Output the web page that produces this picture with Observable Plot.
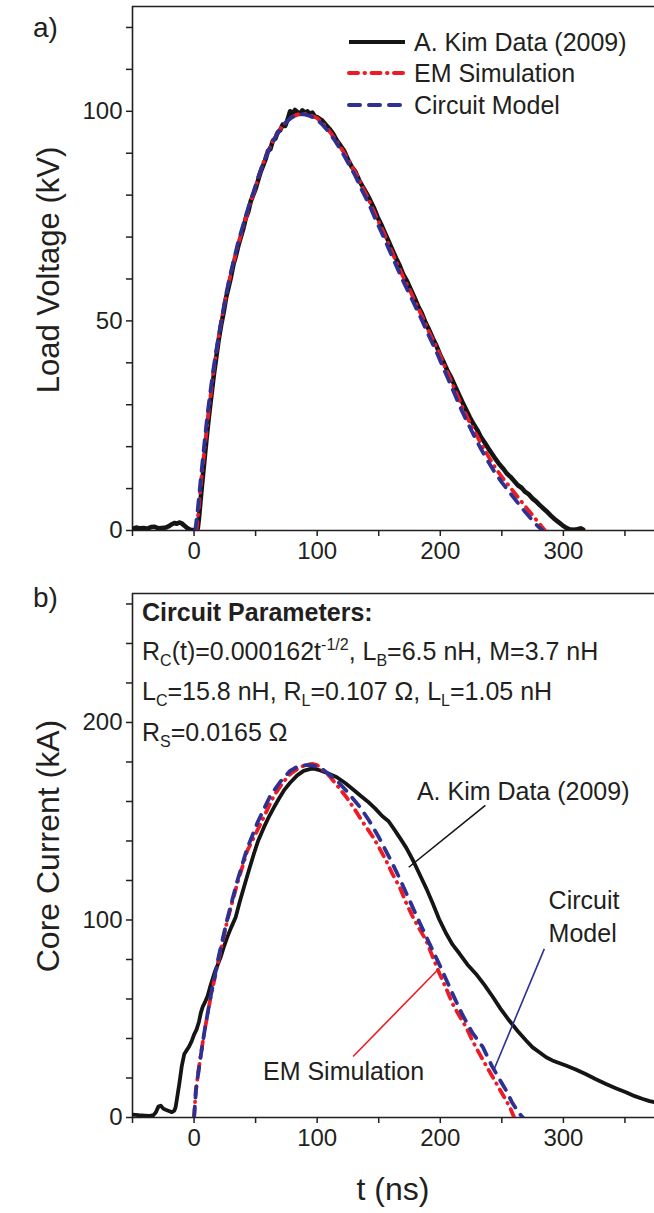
<!DOCTYPE html>
<html><head><meta charset="utf-8">
<script src="https://cdn.jsdelivr.net/npm/d3@7"></script>
<script src="https://cdn.jsdelivr.net/npm/@observablehq/plot@0.6"></script>
<style>
body{margin:0;background:#fff;}
#wrap{position:relative;width:654px;height:1213px;overflow:hidden;font-family:"Liberation Sans",Arial,Helvetica,sans-serif;}
#wrap svg{position:absolute;left:0;}
</style></head><body><div id="wrap"></div>
<script>
// ---------------- data: panel a) Load Voltage (kV) ----------------
const kimVoltT = [-50,-47,-44,-41,-38,-35,-32,-29,-26,-23,-20,-18,-16,-14,-12,-10,-8,-6,-4,-2,0,1,2,3,4,6,8,10,12,14,16,18,20,22,24,26,28,30,32,34,36,38,40,42,44,46,48,50,52,54,56,58,60,62,64,66,68,70,72,74,76,78,80,82,84,86,88,90,92,94,96,98,100,102,104,107,110,113,116,119,122,125,128,131,134,137,140,143,146,149,152,155,158,161,164,167,170,173,176,179,182,185,188,191,194,197,200,203,206,209,212,215,218,221,224,227,230,233,236,239,242,245,248,251,254,257,260,263,266,269,272,275,278,281,284,287,290,293,296,299,302,305,308,311,314,316];
const kimVoltV = [0.4,0.7,0.5,0.6,0.4,0.8,0.9,0.5,0.6,0.7,1.1,1.5,1.8,1.6,1.9,1.7,1.2,0.7,0.3,0.1,0.1,0.2,0.2,0.5,3,9.5,15.5,21.5,27,32,37,41.2,45.5,49,52,55.5,58,60.5,63.5,65.5,68,70,72,74.5,76,78.5,80,81.5,83.5,85.5,87,88.5,90.5,91,93,93.5,95,95.5,96.8,96.5,98,100,99.5,100.3,99.8,99.4,100.2,99.6,100,99.3,99.7,98.8,98.6,98.2,97.8,96.8,95.8,94.6,93,91.8,90.5,88.5,86.8,85.6,83.6,82,80.5,78.8,77,74.8,73,71,69,67,65,63.2,61,59.5,57.5,55.6,53.5,51.8,49.6,47.8,45.8,44,41.8,40,38,36.4,34.4,32.5,30.6,28.8,27,25.4,24,22.3,21,19.6,18.3,17,15.8,14.8,13.6,12.8,11.8,10.8,10.2,9.2,8.6,7.6,6.9,6,5.2,4.4,3.5,2.7,2,1.3,0.7,0.3,0.2,0.3,0.5,0.2];
const emVoltT = [2,4,6,8,10,12,14,16,18,21,24,27,30,33,37,41,45,49,53,57,61,65,70,75,80,85,90,95,100,105,110,115,121,126,132,137,143,148,153.5,159,164,170,175,180,186,191,197,202,207.6,213,218,223,229,234,240,245,251,257,264,270,275,280,285];
const emVoltV = [0,6,12.5,18,23.5,29,33.5,38.5,42.5,48,53,57.5,61.5,65,69.5,73.5,77.5,81,85,88.3,91,93.5,95.8,97.5,98.7,99.3,99.4,99,98.4,97,95.2,93.2,90.5,88,84.9,81.8,78.2,74.8,71.4,67.6,64.3,60.4,57.5,54.3,50.6,47.3,43.7,40.3,36.5,32.8,29.4,26.3,23,20.2,17.2,14.8,12.4,10.2,7.6,5.4,3.6,1.8,0];
const cmVoltT = [1,3,5,7,9,11,13,15,17,20,23,26,29,32,36,40,44,48,52,56,60,64,69,74,79,84,89,94,99,104,109,114,120,125,131,136,142,147,152.5,158,163,169,174,179,185,190,196,201,206.6,212,217,222,228,233,239,244,250,256,263,269,274,279,283];
const cmVoltV = [0,5,11,16.8,22.5,28,32.5,37,41,46.5,51.5,56.3,60.5,64.2,69,73,77,80.5,84.2,87.5,90.3,92.8,95.3,97.2,98.5,99.2,99.3,98.9,98.2,96.9,95.2,93.2,90.4,87.8,84.6,81.4,77.9,74.5,71,67.3,64,60,57,53.9,50.2,46.9,43.2,39.8,36,32.3,28.9,25.8,22.3,19.5,16.4,14,11.5,9.2,6.6,4.4,2.7,1.1,0];

// ---------------- data: panel b) Core Current (kA) ----------------
const kimCurrT = [-50,-45,-40,-36,-33,-31,-29,-27,-25,-23,-20,-18,-16,-15,-14,-13,-12,-10,-8,-6,-4,-2,0,2,4,5.5,7,9,11,13,15,17,19,21.6,24,27,30,33.8,37,40.5,44,48.6,52,56.8,61,64.9,69,73,78,83.8,89,94.6,98,102.7,109,116,123,129.7,135,141,147,153,158,163,168,172.4,178,183,189,194,199,204.9,210,215.7,222,229,236,242.7,249,256,263,269.7,275,280.5,286,291,297,302,310,318,326,334.6,343,350.8,358,364,370,376];
const kimCurrI = [1.5,1.2,1.0,0.8,1.2,2.7,5.5,6,4.5,3.9,3.2,2.7,3.5,5.2,9,13,17,26,32,34,36,38.5,42,44.5,48.5,53,56,58.5,61.5,66,70,74,77,81.2,86,91.3,96,101.4,109,116.6,124,133.5,140,147,152.5,157,161.5,165.6,169.5,173.2,175.5,176.5,176.5,175.7,174.2,172.3,169.2,165.8,163,160,156.5,152.5,150,145.5,140.8,136.5,130,123.4,115.5,108.2,100.5,93,87.5,82.9,77.5,72.7,67,61,55,49.1,43.7,39,35.5,33,30.5,28.9,27.5,26.3,24.3,22,19.5,17,14.7,12.8,10.8,9.5,8.3,7.5];
const emCurrT = [0,1.4,4,8.1,13.5,20.3,27,35,43.2,54,65,72,78.4,84,88,92,96,100,103,107,110.8,117,124,131,138,145.4,150,156,161,167,172,177.8,183,188.6,194,199.5,205,210,215,221,226,231.9,237,242.7,248,253.5,257,260];
const emCurrI = [0,13.7,25.5,42.4,61,81,99.7,118.3,135,148.7,163,169.5,174,176.5,177.8,178.6,179,178.4,176.8,174.8,172.3,167.5,162,155.5,148.7,142,137,130,123.5,116.6,109,101.4,95.5,89.6,81,72.7,65,57.6,52,45.7,39,32.2,26.5,20.4,14.5,8.6,4.5,0];
const cmCurrT = [0,1.6,4.2,8.3,13.5,20,27,35,43,52,62,70,78,85,92,98,105,116,125,135,142,150,160,167,175,183,192,200,210,218,226,234.6,242,248,253.5,258,263,267];
const cmCurrI = [0,14,26,43,61.5,81.5,100.5,119.5,136,150,163,170,175.5,178,178.5,178,176,170.6,164.5,157,150.5,142,130,121,110,99,87,76.5,62.6,52,43,35.6,26,19.5,13.7,8,3,0];

// ---------------- text ----------------
const seriesNames = ["A. Kim Data (2009)", "EM Simulation", "Circuit Model"];
const xTitle = "t (ns)";
const yTitleA = "Load Voltage (kV)";
const yTitleB = "Core Current (kA)";
const xTickValues = [-50, 0, 50, 100, 150, 200, 250, 300, 350];
const xTickLabels = [0, 100, 200, 300];
const voltTickValues = [0,10,20,30,40,50,60,70,80,90,100,110,120];
const voltTickLabels = [0, 50, 100];
const currTickValues = [0,20,40,60,80,100,120,140,160,180,200,220,240,260];
const currTickLabels = [0, 100, 200];
const paramLines = [
  [{t:"Circuit Parameters:", bold:true}],
  [{t:"R"},{t:"C",sub:true},{t:"(t)=0.000162t"},{t:"-1/2",sup:true},{t:", L"},{t:"B",sub:true},{t:"=6.5 nH, M=3.7 nH"}],
  [{t:"L"},{t:"C",sub:true},{t:"=15.8 nH, R"},{t:"L",sub:true},{t:"=0.107 \u03a9, L"},{t:"L",sub:true},{t:"=1.05 nH"}],
  [{t:"R"},{t:"S",sub:true},{t:"=0.0165 \u03a9"}]
];

// ---------------- styling ----------------
const INK = "#231f20";
const FONT = "'Liberation Sans', Arial, Helvetica, sans-serif";
const styles = [
  {stroke: "#151515", strokeWidth: 3.8, strokeLinejoin: "round"},
  {stroke: "#ed1c24", strokeWidth: 3.8, strokeDasharray: "9,6.5,0.5,6.5", strokeLinecap: "round", strokeLinejoin: "round"},
  {stroke: "#2e3192", strokeWidth: 3.8, strokeDasharray: "11,9", strokeLinecap: "round", strokeLinejoin: "round"}
];
const T_DOMAIN = [-50, 374];

const zip = (ts, vs) => ts.map((t, i) => ({t, v: vs[i]}));

function panel({height, marginTop, marginBottom, yDomain, yTicks, yLabels, series, blackWidth, extra = []}) {
  return Plot.plot({
    width: 654, height, marginTop, marginBottom, marginLeft: 132, marginRight: 0,
    style: {fontFamily: FONT, fontSize: "24px", color: INK, background: "transparent", overflow: "visible"},
    x: {domain: T_DOMAIN},
    y: {domain: yDomain},
    marks: [
      Plot.axisX({ticks: xTickValues, tickFormat: d => xTickLabels.includes(d) ? String(d) : "", tickSize: 6, tickPadding: 5, strokeWidth: 1.5, label: null, fontSize: 24}),
      Plot.axisY({ticks: yTicks, tickFormat: d => yLabels.includes(d) ? String(d) : "", tickSize: 6, tickPadding: 4, strokeWidth: 1.5, label: null, fontSize: 24}),
      Plot.ruleX([T_DOMAIN[0]], {stroke: INK, strokeWidth: 1.6}),
      Plot.ruleY([yDomain[0]], {stroke: INK, strokeWidth: 1.6}),
      Plot.ruleY([yDomain[1]], {stroke: INK, strokeWidth: 1.6}),
      ...series.map((s, i) => Plot.line(s, {x: "t", y: "v", clip: true, ...styles[i], ...(i === 0 ? {strokeWidth: blackWidth} : {})})),
      ...extra
    ]
  });
}

const wrap = document.getElementById("wrap");

const plotA = panel({
  height: 580, marginTop: 6, marginBottom: 50, yDomain: [0, 125],
  yTicks: voltTickValues, yLabels: voltTickLabels, blackWidth: 4.6,
  series: [zip(kimVoltT, kimVoltV), zip(emVoltT, emVoltV), zip(cmVoltT, cmVoltV)]
});
plotA.style.top = "0px";
wrap.appendChild(plotA);

// annotations of panel b (data coordinates)
const annoText = [
  {label: seriesNames[0], t: 181, v: 165},
  {label: "Circuit", t: 288, v: 109.7},
  {label: "Model", t: 288, v: 92.7},
  {label: seriesNames[1], t: 56, v: 23.1}
];
const annoLinks = [
  {t1: 236.6, v1: 158, t2: 174.4, v2: 126.7, c: "#151515"},
  {t1: 129.2, v1: 30.9, t2: 197.4, v2: 74.4, c: "#ed1c24"},
  {t1: 284.5, v1: 85.4, t2: 243.3, v2: 23.8, c: "#2e3192"}
];

const plotB = panel({
  height: 633, marginTop: 13, marginBottom: 96, yDomain: [0, 265.3],
  yTicks: currTickValues, yLabels: currTickLabels, blackWidth: 3.8,
  series: [zip(kimCurrT, kimCurrI), zip(emCurrT, emCurrI), zip(cmCurrT, cmCurrI)],
  extra: [
    Plot.link(annoLinks, {x1: "t1", y1: "v1", x2: "t2", y2: "v2", stroke: "c", strokeWidth: 1.6}),
    Plot.text(annoText, {x: "t", y: "v", text: "label", textAnchor: "start", lineAnchor: "middle", fontSize: 25, fill: INK})
  ]
});
plotB.style.top = "580px";
wrap.appendChild(plotB);

// overlay: panel letters, axis titles, legend, parameters
const ov = d3.select(wrap).append("svg")
  .attr("width", 654).attr("height", 1213)
  .style("top", "0px").style("pointer-events", "none")
  .attr("font-family", FONT).attr("fill", INK);

ov.append("text").attr("x", 33).attr("y", 37).attr("font-size", 28).text("a)");
ov.append("text").attr("x", 33).attr("y", 607).attr("font-size", 28).text("b)");
ov.append("text").attr("transform", "translate(59,270) rotate(-90)").attr("text-anchor", "middle").attr("font-size", 31).text(yTitleA);
ov.append("text").attr("transform", "translate(59,846) rotate(-90)").attr("text-anchor", "middle").attr("font-size", 32).text(yTitleB);
ov.append("text").attr("x", 393).attr("y", 1200).attr("text-anchor", "middle").attr("font-size", 32).text(xTitle);

// legend
const legY = [42, 73, 105];
seriesNames.forEach((name, i) => {
  const s = styles[i];
  ov.append("line").attr("x1", 349).attr("x2", 405).attr("y1", legY[i]).attr("y2", legY[i])
    .attr("stroke", s.stroke).attr("stroke-width", 4)
    .attr("stroke-dasharray", s.strokeDasharray || null).attr("stroke-linecap", s.strokeLinecap || "butt");
  ov.append("text").attr("x", 414).attr("y", legY[i] + 9).attr("font-size", 25).text(name);
});

// circuit parameters
const paramBase = [621, 660, 700, 741];
paramLines.forEach((segs, li) => {
  const tx = ov.append("text").attr("x", 142).attr("y", paramBase[li]).attr("font-size", 25);
  let shift = 0;
  segs.forEach(seg => {
    const ts = tx.append("tspan").text(seg.t);
    const target = seg.sub ? 6 : seg.sup ? -10 : 0;
    ts.attr("dy", target - shift);
    shift = target;
    if (seg.sub || seg.sup) ts.attr("font-size", 16);
    if (seg.bold) ts.attr("font-weight", "bold");
  });
});
</script>
</body></html>
